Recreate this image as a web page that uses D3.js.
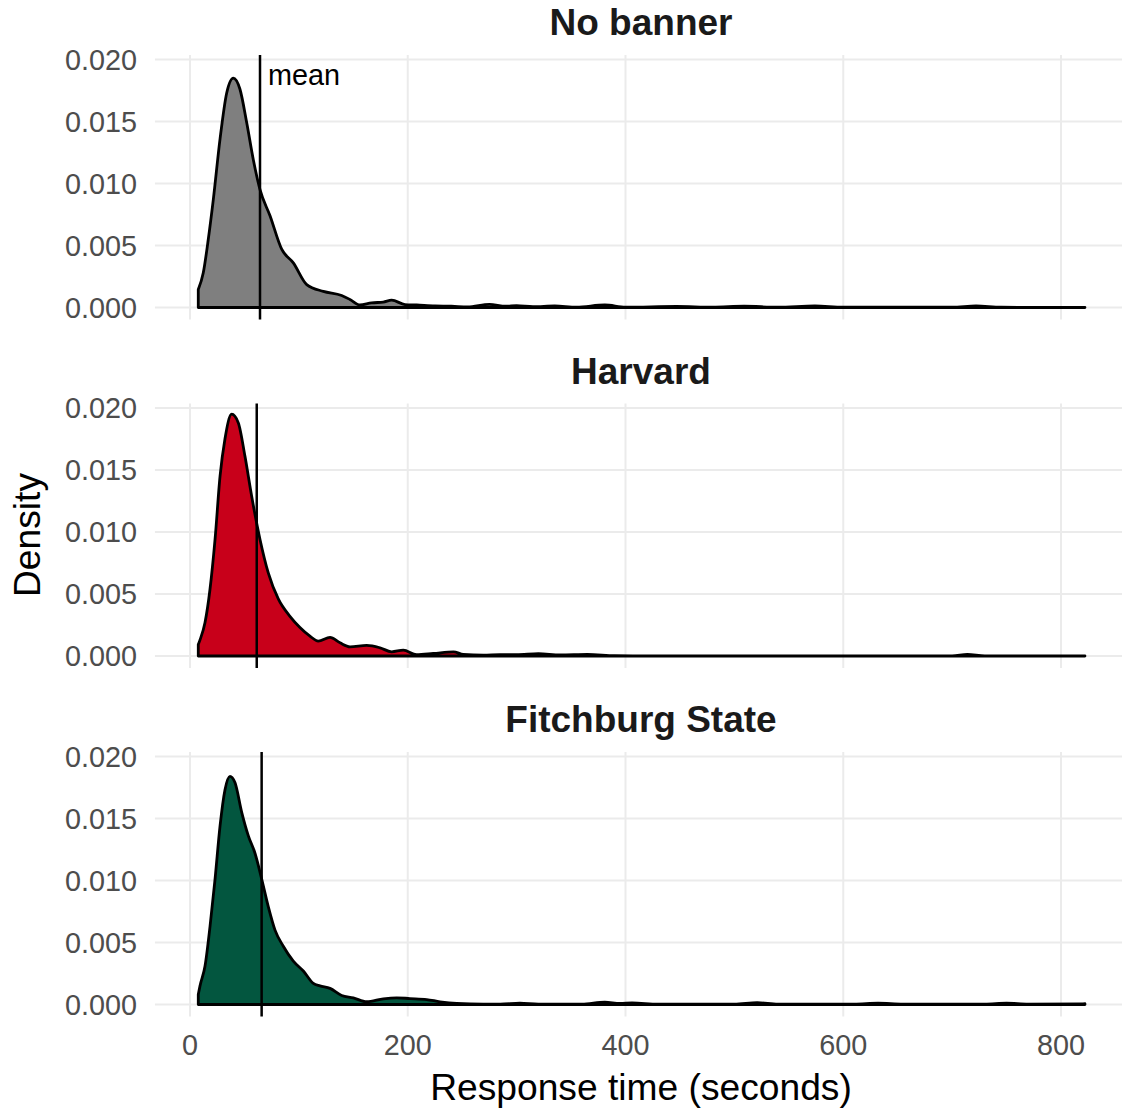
<!DOCTYPE html>
<html>
<head>
<meta charset="utf-8">
<script src="https://cdn.jsdelivr.net/npm/d3@7"></script>
<style>
  body { margin: 0; background: #fff; }
  svg { display: block; font-family: "Liberation Sans", Arial, sans-serif; }
</style>
</head>
<body>
<script>
// groups and their facet titles
const groups = ["No banner", "Harvard", "Fitchburg State"];

// density curves: [seconds, density]
const noBanner = [[7.6,0.00145],[12.2,0.0028],[16.8,0.0055],[21.4,0.0087],[27.6,0.0136],[33.7,0.0173],[39.8,0.0185],[45.9,0.0176],[52.1,0.0149],[58.2,0.0119],[64.3,0.0095],[73.5,0.0074],[84.2,0.0047],[94.9,0.0036],[107.2,0.00185],[122.5,0.0013],[139.3,0.00097],[146.9,0.00065],[156.1,0.0002],[166.8,0.00038],[177.5,0.00043],[185.2,0.00059],[197.5,0.00024],[208.2,0.0002],[225,0.00012],[240,0.0001],[255,0.00004],[275,0.00025],[290,0.0001],[300,0.00015],[315,0.00007],[335,0.00012],[355,0.00003],[381,0.0002],[400,0.00003],[447,0.00008],[480,0.00002],[509,0.0001],[540,0.00002],[574,0.00012],[600,0.00002],[700,0.00002],[722,0.00012],[745,0.00002],[822,0.00001]];

const harvard = [[7.6,0.00093],[9.2,0.0013],[13.8,0.0027],[18.4,0.0054],[23,0.0094],[27.6,0.0145],[32.1,0.0175],[38.3,0.0195],[44.4,0.0188],[50.5,0.0161],[56.6,0.0129],[64.3,0.0094],[71.9,0.0067],[81.1,0.0046],[91.8,0.0032],[101,0.0023],[110.2,0.0016],[117.8,0.0012],[128.6,0.0015],[137.8,0.00106],[147,0.00074],[162.3,0.00085],[174.5,0.00066],[185.2,0.00034],[195.9,0.00047],[208.1,0.0001],[223.4,0.0002],[242,0.00034],[251,0.00012],[269.4,0.00006],[284.7,0.0001],[300,0.0001],[320,0.00018],[340,0.00008],[365,0.00012],[390,0.00003],[420,0.00001],[700,0.00001],[714,0.00012],[730,0.00001],[822,0.00001]];

const fitchburg = [[7.6,0.0008],[9.2,0.0015],[13.8,0.0031],[18.4,0.0063],[23,0.0101],[27.6,0.0144],[32.1,0.0173],[36.7,0.0184],[41.3,0.0179],[47.5,0.0155],[53.6,0.0136],[59.7,0.0122],[65.9,0.0101],[71.9,0.0079],[78.1,0.006],[85.7,0.0047],[94.9,0.0035],[104.1,0.0027],[113.3,0.0017],[119.4,0.0015],[128.6,0.0013],[139.3,0.00073],[150,0.00054],[162.3,0.00022],[177.6,0.00046],[189.8,0.00054],[202,0.00048],[217.4,0.0004],[229.6,0.00022],[244.9,0.00008],[269.4,0.00002],[285,0.00002],[303,0.0001],[320,0.00002],[360,0.00002],[381,0.00018],[395,0.00008],[406,0.00012],[430,0.00002],[500,0.00002],[521,0.00015],[540,0.00002],[610,0.00002],[632,0.0001],[655,0.00002],[730,0.00002],[750,0.0001],[770,0.00002],[822,0.00006]];

// mean response time per group (seconds)
const means = [64.3, 61.3, 65.8];

const xTicks = [0, 200, 400, 600, 800];
const yTicks = [0, 0.005, 0.01, 0.015, 0.02];

const curves = [noBanner, harvard, fitchburg];
const fills = ["#7f7f7f", "#c8001a", "#03563f"];

const width = 1124, height = 1112;
const panelStep = 348.5;
const base0 = 307.5;

const x = d3.scaleLinear().domain([0, 800]).range([190, 1061]);
const xLo = -32.2, xHi = 856;
const yLo = -0.00097, yHi = 0.02037;

const svg = d3.select("body").append("svg")
    .attr("width", width)
    .attr("height", height);

groups.forEach((name, i) => {
  const base = base0 + i * panelStep;
  const y = d3.scaleLinear().domain([0, 0.02]).range([base, base - 248]);

  const g = svg.append("g");

  // grid
  g.selectAll(".hg")
    .data(yTicks)
    .enter().append("line")
      .attr("x1", x(xLo)).attr("x2", x(xHi))
      .attr("y1", d => y(d)).attr("y2", d => y(d))
      .attr("stroke", "#ebebeb").attr("stroke-width", 2);

  g.selectAll(".vg")
    .data(xTicks)
    .enter().append("line")
      .attr("x1", d => x(d)).attr("x2", d => x(d))
      .attr("y1", y(yLo)).attr("y2", y(yHi))
      .attr("stroke", "#ebebeb").attr("stroke-width", 2);

  // y tick labels
  g.selectAll(".yl")
    .data(yTicks)
    .enter().append("text")
      .attr("x", 137)
      .attr("y", d => y(d))
      .attr("dy", "0.36em")
      .attr("text-anchor", "end")
      .attr("fill", "#4d4d4d")
      .style("font-size", "28.8px")
      .text(d3.format(".3f"));

  // density area
  const area = d3.area()
      .x(d => x(d[0]))
      .y0(y(0))
      .y1(d => y(d[1]))
      .curve(d3.curveMonotoneX);

  g.append("path")
      .datum(curves[i])
      .attr("d", d => area(d) + "Z")
      .attr("fill", fills[i])
      .attr("stroke", "#000")
      .attr("stroke-width", 2.8)
      .attr("stroke-linejoin", "round");

  // mean line
  g.append("line")
      .attr("x1", x(means[i])).attr("x2", x(means[i]))
      .attr("y1", y(yLo)).attr("y2", y(yHi))
      .attr("stroke", "#000").attr("stroke-width", 2.5);

  // facet title
  g.append("text")
      .attr("x", 641)
      .attr("y", 35 + i * panelStep)
      .attr("text-anchor", "middle")
      .attr("fill", "#1a1a1a")
      .style("font-size", "37px")
      .style("font-weight", "bold")
      .text(name);

  if (i === 0) {
    g.append("text")
        .attr("x", x(means[i]) + 8)
        .attr("y", 85)
        .attr("fill", "#000")
        .style("font-size", "28.8px")
        .text("mean");
  }
});

// x tick labels (bottom panel only)
svg.selectAll(".xl")
  .data(xTicks)
  .enter().append("text")
    .attr("x", d => x(d))
    .attr("y", 1055)
    .attr("text-anchor", "middle")
    .attr("fill", "#4d4d4d")
    .style("font-size", "28.8px")
    .text(d => d);

// axis titles
svg.append("text")
    .attr("x", 641)
    .attr("y", 1100)
    .attr("text-anchor", "middle")
    .attr("fill", "#000")
    .style("font-size", "37.2px")
    .text("Response time (seconds)");

svg.append("text")
    .attr("transform", "translate(40,535) rotate(-90)")
    .attr("text-anchor", "middle")
    .attr("fill", "#000")
    .style("font-size", "37.2px")
    .text("Density");
</script>
</body>
</html>
